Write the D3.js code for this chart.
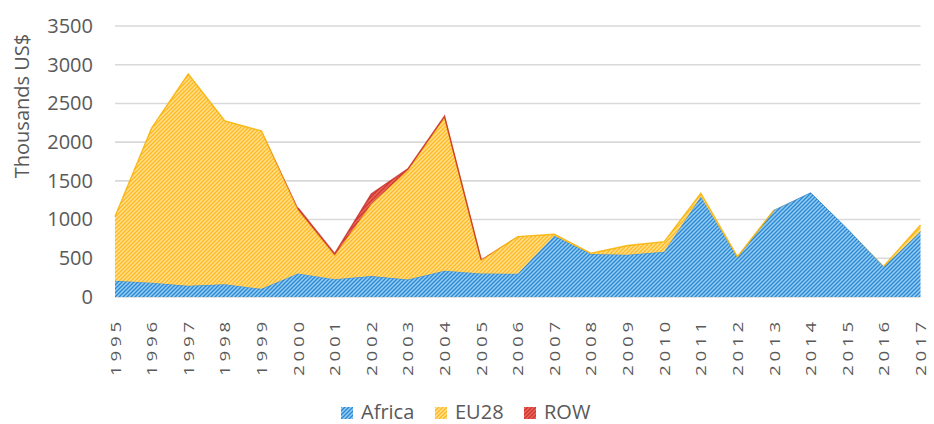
<!DOCTYPE html>
<html>
<head>
<meta charset="utf-8">
<script src="https://cdn.jsdelivr.net/npm/d3@7"></script>
<style>
  body { margin: 0; background: #fff; }
  text { font-family: "Open Sans", "Noto Sans", sans-serif; fill: #595959; }
</style>
</head>
<body>
<svg class="chart" width="934" height="424"></svg>
<script>
const years = d3.range(1995, 2018);
const africa = [210, 185, 145, 165, 105, 305, 230, 270, 225, 340, 305, 300, 790, 555, 545, 585, 1295, 510, 1120, 1345, 880, 390, 845];
const eu28 = [830, 1995, 2735, 2110, 2040, 820, 310, 930, 1415, 1980, 170, 480, 20, 10, 120, 130, 45, 10, 5, 0, 0, 10, 85];
const row = [0, 0, 0, 0, 0, 25, 20, 130, 15, 15, 10, 0, 0, 0, 0, 0, 0, 0, 0, 0, 0, 0, 0];
const yTicks = [0, 500, 1000, 1500, 2000, 2500, 3000, 3500];
const seriesNames = ["Africa", "EU28", "ROW"];

const svg = d3.select("svg.chart");

const table = years.map((yr, i) => ({ year: yr, Africa: africa[i], EU28: eu28[i], ROW: row[i] }));
const stacked = d3.stack().keys(seriesNames)(table);

const x = d3.scaleLinear().domain([1995, 2017]).range([115, 920.5]);
const y = d3.scaleLinear().domain([0, 3500]).range([297, 26]);

// hatch patterns
const looks = {
  Africa: { light: "#93cdf3", dark: "#2b87d4", edge: "#2f86d0" },
  EU28: { light: "#ffe08e", dark: "#ffb820", edge: "#f7b100" },
  ROW: { light: "#e8675e", dark: "#d1352c", edge: "#c8332b" }
};

const defs = svg.append("defs");
seriesNames.forEach(name => {
  const p = defs.append("pattern")
    .attr("id", "hatch-" + name)
    .attr("patternUnits", "userSpaceOnUse")
    .attr("width", 4)
    .attr("height", 4);
  p.append("rect").attr("width", 4).attr("height", 4).attr("fill", looks[name].light);
  p.append("path")
    .attr("d", "M-1,1 l2,-2 M0,4 l4,-4 M3,5 l2,-2")
    .attr("stroke", looks[name].dark)
    .attr("stroke-width", 1.3);
});

// gridlines
svg.append("g")
  .selectAll("line")
  .data(yTicks)
  .enter()
  .append("line")
  .attr("x1", x(1995))
  .attr("x2", x(2017))
  .attr("y1", d => y(d))
  .attr("y2", d => y(d))
  .attr("stroke", "#d9d9d9")
  .attr("stroke-width", 1.6);

const area = d3.area()
  .x(d => x(d.data.year))
  .y0(d => y(d[0]))
  .y1(d => y(d[1]));

const layers = svg.append("g")
  .selectAll("g")
  .data(stacked)
  .enter()
  .append("g");

layers.append("path")
  .attr("d", area)
  .attr("fill", d => "url(#hatch-" + d.key + ")");

// edge only where the layer has some thickness
layers.append("path")
  .attr("d", d3.line()
    .defined(d => d[1] - d[0] > 0)
    .x(d => x(d.data.year))
    .y(d => y(d[1])))
  .attr("fill", "none")
  .attr("stroke", d => looks[d.key].edge)
  .attr("stroke-width", d => d.key === "Africa" ? 1 : 1.4)
  .attr("stroke-opacity", 0.85);

// y axis
const yAxis = svg.append("g")
  .attr("transform", "translate(100,0)")
  .call(d3.axisLeft(y).tickValues(yTicks).tickFormat(d3.format("d")).tickSize(0).tickPadding(7));
yAxis.select(".domain").remove();
yAxis.selectAll("text")
  .style("font-family", "'Open Sans', sans-serif")
  .style("font-size", "20px")
  .attr("fill", "#595959");

svg.append("text")
  .attr("transform", "translate(29,106) rotate(-90)")
  .attr("text-anchor", "middle")
  .style("font-size", "20px")
  .text("Thousands US$");

// x labels
svg.append("g")
  .selectAll("text")
  .data(years)
  .enter()
  .append("text")
  .attr("transform", d => "translate(" + (x(d) + 5.5) + ",376) rotate(-90) scale(1.25,1)")
  .attr("text-anchor", "start")
  .style("font-size", "15px")
  .style("letter-spacing", "3px")
  .text(d => d);

// legend
const legendX = [341, 435, 524];
const legend = svg.append("g")
  .selectAll("g")
  .data(seriesNames)
  .enter()
  .append("g")
  .attr("transform", (d, i) => "translate(" + legendX[i] + ",407)");

legend.append("rect")
  .attr("width", 12)
  .attr("height", 12)
  .attr("fill", d => "url(#hatch-" + d + ")");

legend.append("text")
  .attr("x", 20)
  .attr("y", 12)
  .style("font-size", "20px")
  .text(d => d);
</script>
</body>
</html>
